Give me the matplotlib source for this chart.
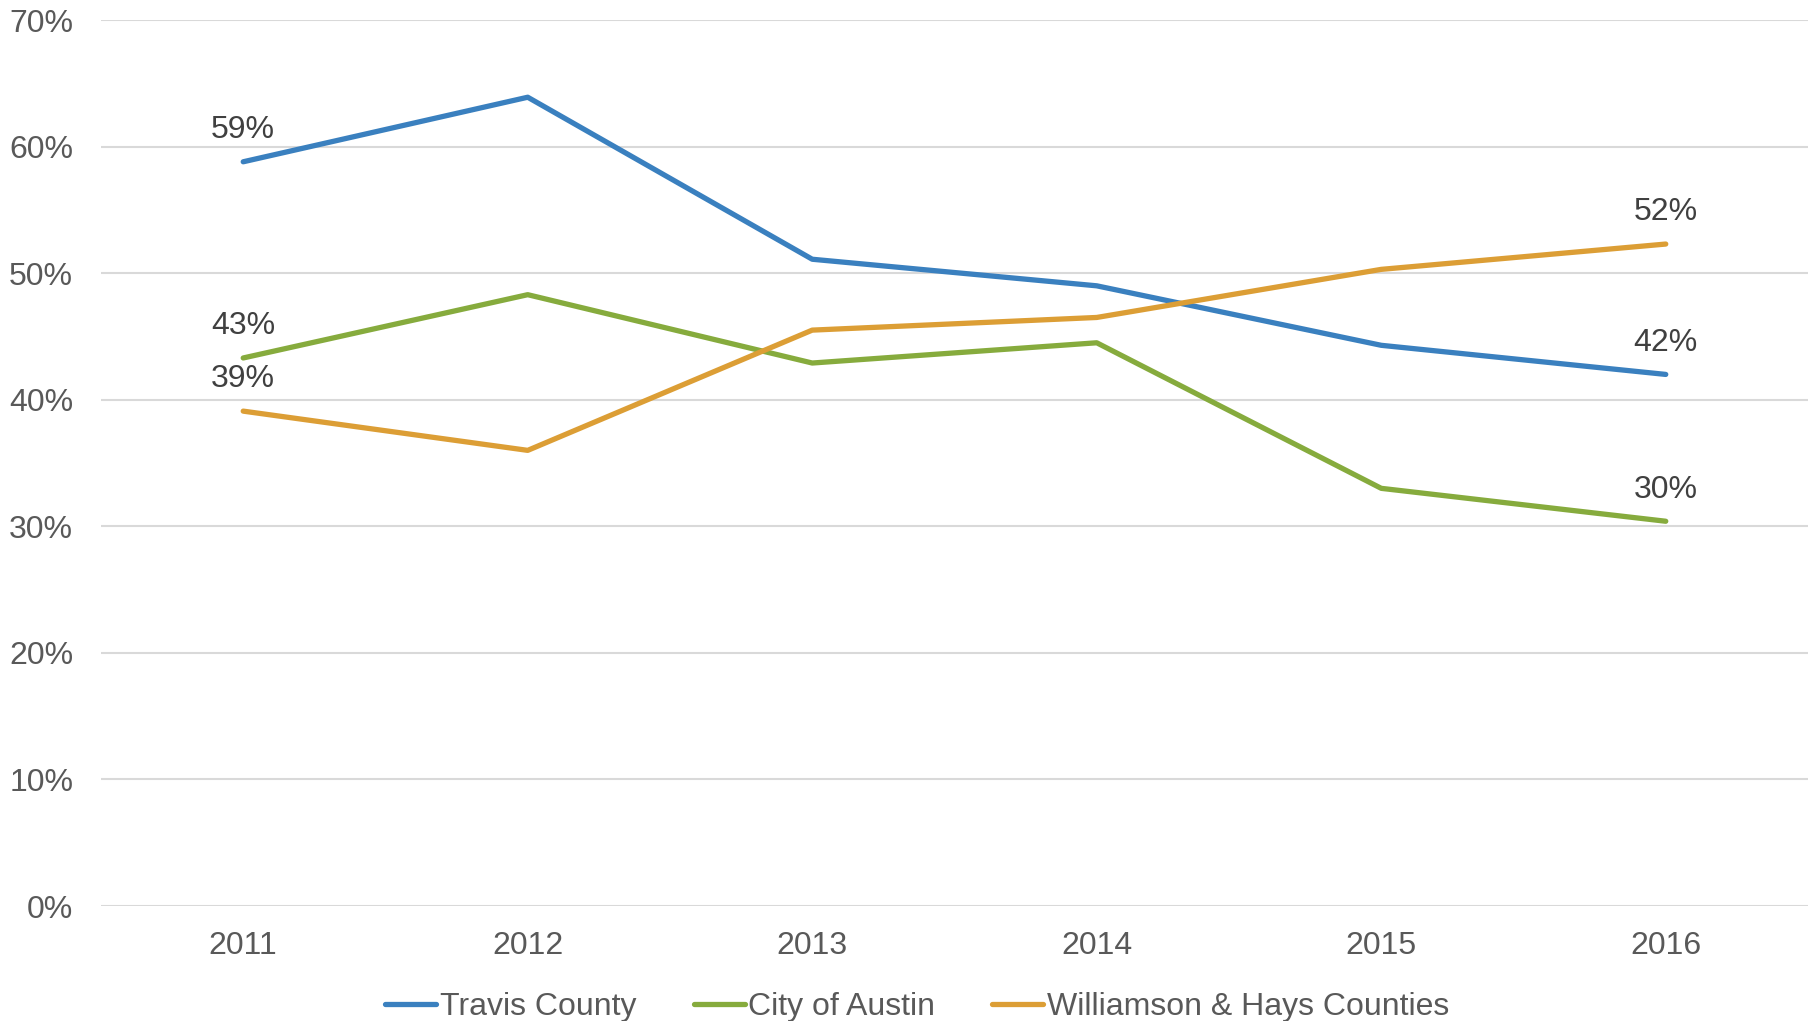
import matplotlib
matplotlib.use("Agg")
from matplotlib import pyplot as plt

plt.rcParams['font.family'] = ['Liberation Sans', 'DejaVu Sans']

years = ["2011", "2012", "2013", "2014", "2015", "2016"]
travis = [58.8, 63.9, 51.1, 49.0, 44.3, 42.0]
austin = [43.3, 48.3, 42.9, 44.5, 33.0, 30.4]
wilhays = [39.1, 36.0, 45.5, 46.5, 50.3, 52.3]
names = ["Travis County", "City of Austin", "Williamson & Hays Counties"]
colors = ["#3a80bf", "#86ab3d", "#dc9e35"]

fig = plt.figure(figsize=(18.16, 10.21), dpi=100)
ax = fig.add_axes([0.0556, 0.1126, 0.94, 0.8678])

x = list(range(len(years)))
series = [travis, austin, wilhays]
for vals, name, c in zip(series, names, colors):
    ax.plot(x, vals, color=c, lw=3.8, label=name, solid_capstyle="round")
    for i in (0, len(x) - 1):
        ax.annotate("%d%%" % round(vals[i]), (x[i], vals[i]), xytext=(0, 12),
                    textcoords="offset points", ha="center", va="bottom",
                    fontsize=23, color="#404040")

ax.set_xlim(-0.5, 5.5)
ax.set_ylim(0, 70)
ax.set_yticks(range(0, 71, 10))
ax.set_yticklabels(["%d%%" % v for v in range(0, 71, 10)])
ax.set_xticks(x)
ax.set_xticklabels(years)
ax.tick_params(axis="both", length=0, labelsize=23, labelcolor="#595959")
ax.tick_params(axis="y", pad=20)
ax.tick_params(axis="x", pad=18)
ax.grid(axis="y", color="#d9d9d9", lw=1.5)
ax.set_axisbelow(True)
for s in ax.spines.values():
    s.set_visible(False)

fig.legend(loc="center", bbox_to_anchor=(0.505, 0.014), ncol=3, frameon=False,
           fontsize=23, labelcolor="#595959", handlelength=1.6,
           handletextpad=0.1, columnspacing=1.8)

fig.savefig("out.png", dpi=100)
